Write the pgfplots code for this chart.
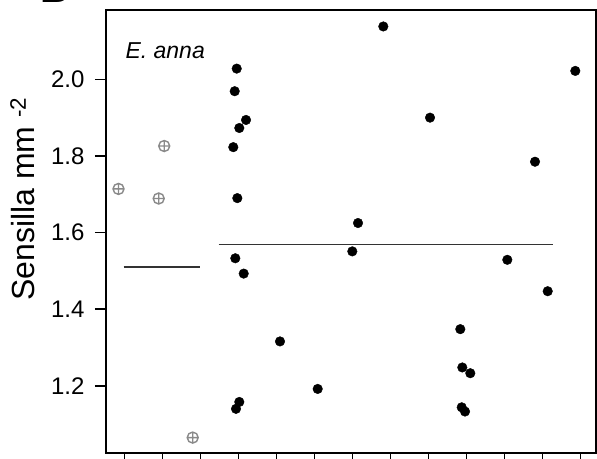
\documentclass[border=0pt]{standalone}
\usepackage{fontspec}
\setmainfont{Liberation Sans}
\usepackage{pgfplots}
\pgfplotsset{compat=1.18}
\usetikzlibrary{calc}
\definecolor{grp}{HTML}{8A8A8A}
\definecolor{mline}{HTML}{333333}
\begin{document}
\begin{tikzpicture}
\begin{axis}[
  scale only axis,
  width=490pt, height=443.3pt,
  xmin=0.518, xmax=13.413,
  ymin=1.024, ymax=2.181,
  axis line style={line width=1.6pt, black},
  xtick={1,2,3,4,5,6,7,8,9,10,11,12,13},
  xticklabels={},
  ytick={1.2,1.4,1.6,1.8,2.0},
  /pgf/number format/fixed,
  /pgf/number format/fixed zerofill,
  /pgf/number format/precision=1,
  /pgf/number format/assume math mode=true,
  yticklabel style={font=\fontsize{24}{26}\selectfont, xshift=-7pt},
  tick align=outside,
  major tick length=11pt,
  tick style={line width=1.5pt, black},
  xtick pos=bottom, ytick pos=left,
  clip=false,
]
\coordinate (sw) at (rel axis cs:0,0);
\coordinate (ne) at (rel axis cs:1,1);
% means
\addplot[mline, line width=1.7pt] coordinates {(0.984,1.510) (3.0,1.510)};
\addplot[mline, line width=1.7pt] coordinates {(3.48,1.569) (12.29,1.569)};
% group 1 (gray crossed circles)
\addplot[only marks, mark=oplus, mark size=5.5pt, grp, mark options={line width=1.4pt}] table {
x y
0.847 1.714
2.05 1.826
1.905 1.689
2.80 1.065
};
% group 2 (black dots)
\addplot[only marks, mark=*, mark size=4.8pt, black] table {
x y
3.958 2.028
3.905 1.969
4.203 1.894
4.026 1.873
3.868 1.823
3.974 1.690
3.921 1.533
4.142 1.493
5.097 1.316
4.026 1.158
3.939 1.140
6.089 1.192
7.000 1.551
7.150 1.625
7.816 2.138
9.045 1.900
9.842 1.348
9.895 1.248
10.105 1.233
9.879 1.144
9.966 1.133
11.079 1.529
11.808 1.785
12.142 1.447
12.868 2.022
};
\node[anchor=base west, font=\fontsize{23}{25}\selectfont\itshape] at ($(rel axis cs:0,1)+(16pt,-49pt)$) {E. anna};
\node[anchor=base west, font=\fontsize{40}{42}\selectfont\bfseries, inner sep=0pt] at ($(rel axis cs:0,1)+(-66pt,7pt)$) {B};
\node[rotate=90, anchor=base, font=\fontsize{32}{34}\selectfont, inner sep=0pt] at ($(rel axis cs:0,0.574)+(-71pt,0pt)$) {Sensilla mm \textsuperscript{-2}};
\end{axis}
\pgfresetboundingbox
\useasboundingbox ($(sw)+(-106pt,-5.7pt)$) rectangle ($(ne)+(1pt,10pt)$);
\end{tikzpicture}
\end{document}
